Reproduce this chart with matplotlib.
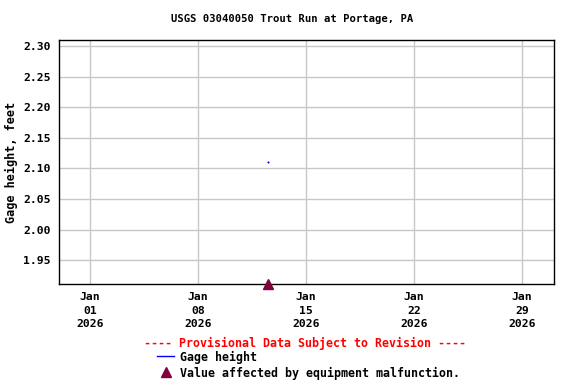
import matplotlib
matplotlib.use("Agg")
import matplotlib.pyplot as plt
import matplotlib.dates as mdates
from datetime import datetime

plt.rcParams['font.family'] = 'DejaVu Sans Mono'
plt.rcParams['font.weight'] = 'bold'
plt.rcParams['axes.labelweight'] = 'bold'
plt.rcParams['font.size'] = 8.2

# data
gage_times = [datetime(2026, 1, 12, 13, 0)]
gage_values = [2.11]
malf_times = [datetime(2026, 1, 12, 13, 0)]
malf_values = [1.911]
yticks = [1.95, 2.00, 2.05, 2.10, 2.15, 2.20, 2.25, 2.30]
xticks = [datetime(2026, 1, 1), datetime(2026, 1, 8), datetime(2026, 1, 15),
          datetime(2026, 1, 22), datetime(2026, 1, 29)]

fig = plt.figure(figsize=(5.76, 3.84), dpi=100)
ax = fig.add_axes([59/576, 1-284/384, (554-59)/576, (284-40)/384])

ax.plot(gage_times, gage_values, color='blue', marker='s', markersize=0.5, linestyle='-', linewidth=1)
ax.plot(malf_times, malf_values, color='#800040', marker='^', markersize=7, linestyle='none', clip_on=False, zorder=5)

ax.set_xlim(datetime(2025, 12, 30), datetime(2026, 1, 31, 2))
ax.set_ylim(1.911, 2.31)
ax.set_yticks(yticks)
ax.set_yticklabels(['%.2f' % v for v in yticks])
ax.set_xticks(xticks)
ax.xaxis.set_major_formatter(mdates.DateFormatter('%b\n%d\n%Y'))
for lbl in ax.get_xticklabels():
    lbl.set_linespacing(1.4)
ax.grid(True, color='#c8c8c8', linewidth=1)
ax.set_axisbelow(True)
ax.tick_params(length=0, pad=6)
for s in ax.spines.values():
    s.set_linewidth(1)
ax.set_ylabel('Gage height, feet', labelpad=4, fontsize=8.6)

fig.text(292/576, 1-19/384, 'USGS 03040050 Trout Run at Portage, PA', ha='center', va='center', fontsize=7.6)
fig.text(305/576, 1-343/384, '---- Provisional Data Subject to Revision ----',
         ha='center', va='center', color='red', fontsize=8.4)
fig.add_artist(plt.Line2D([157/576, 174/576], [1-356/384, 1-356/384], color='blue', linewidth=1))
fig.text(180/576, 1-357/384, 'Gage height', ha='left', va='center', fontsize=8.4)
fig.add_artist(plt.Line2D([166/576], [1-372/384], marker='^', color='#800040', markersize=7))
fig.text(180/576, 1-373/384, 'Value affected by equipment malfunction.', ha='left', va='center', fontsize=8.4)

plt.savefig('out.png', dpi=100)
